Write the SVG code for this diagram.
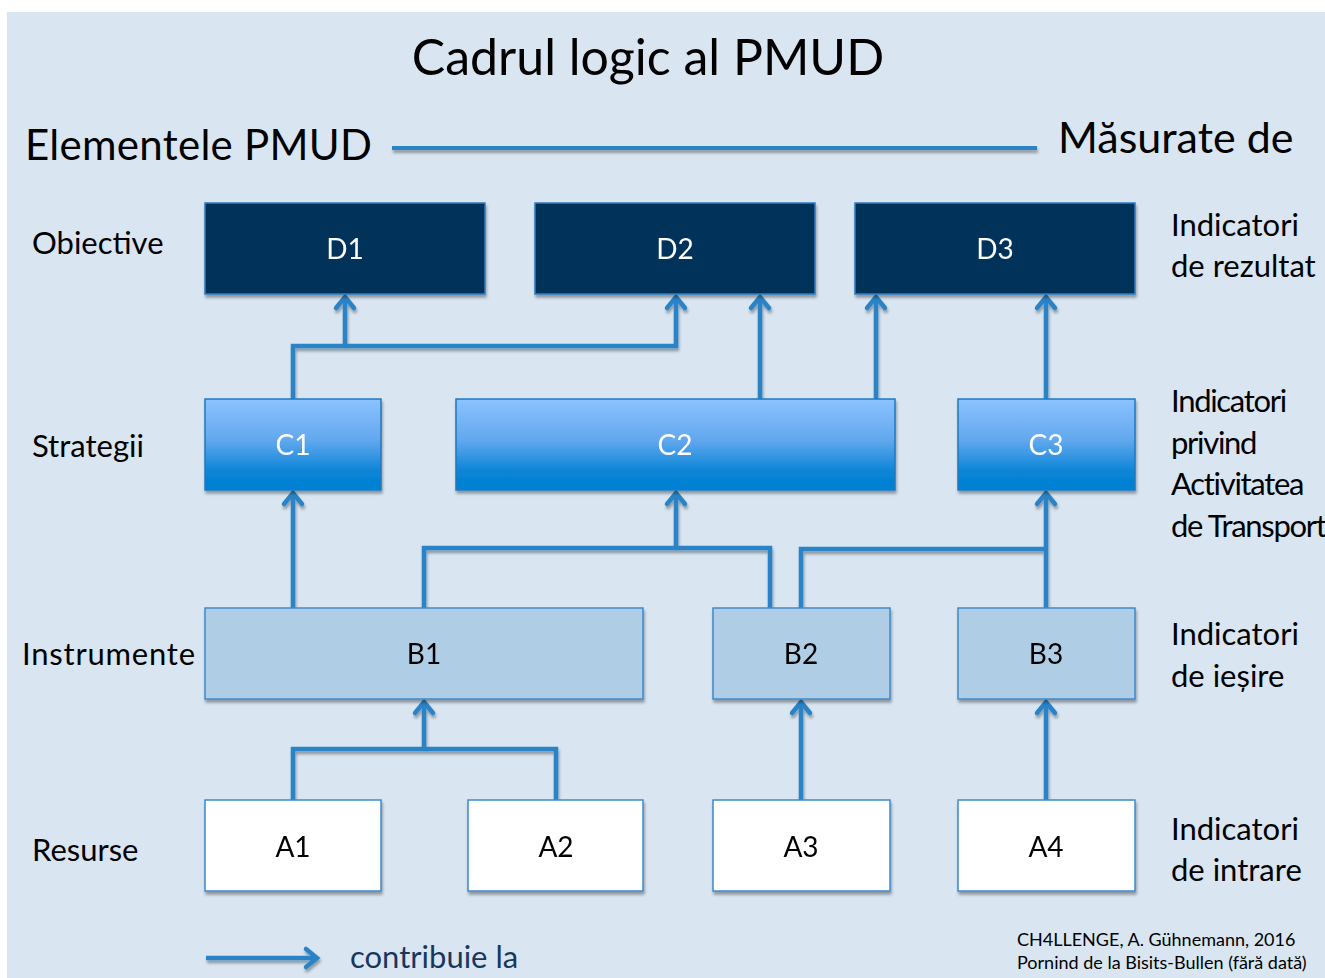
<svg xmlns="http://www.w3.org/2000/svg" width="1325" height="978" viewBox="0 0 1325 978">
  <style>
    .t { font-family: Lato, "Open Sans", "Liberation Sans", sans-serif; fill: #000; }
    .lbl { font-size: 31px; }
    .box text { font-family: Lato, "Open Sans", "Liberation Sans", sans-serif; font-size: 28px; text-anchor: middle; }
    .d rect { fill: #00305A; stroke: #2E7CC0; stroke-width: 1.5; }
    .d text { fill: #fff; }
    .c rect { fill: url(#gradC); stroke: #1F78C0; stroke-width: 1.5; }
    .c text { fill: #fff; }
    .b rect { fill: #B0CDE6; stroke: #3E8ACC; stroke-width: 1.5; }
    .b text { fill: #000; }
    .a rect { fill: #fff; stroke: #3E8ACC; stroke-width: 1.5; }
    .a text { fill: #000; }
    .conn { fill: none; stroke: #2A83C6; stroke-width: 4.5; stroke-linejoin: miter; }
    .arr { marker-end: url(#head); }
  </style>
  <defs>
    <linearGradient id="gradC" x1="0" y1="0" x2="0" y2="1">
      <stop offset="0" stop-color="#8CC2FF"/>
      <stop offset="0.45" stop-color="#62A8EE"/>
      <stop offset="0.8" stop-color="#0A84D6"/>
      <stop offset="1" stop-color="#0080D2"/>
    </linearGradient>
    <filter id="shadow" filterUnits="userSpaceOnUse" x="0" y="0" width="1325" height="978">
      <feGaussianBlur in="SourceAlpha" stdDeviation="1.5"/>
      <feOffset dx="1" dy="2.5" result="o"/>
      <feComponentTransfer><feFuncA type="linear" slope="0.35"/></feComponentTransfer>
      <feMerge><feMergeNode/><feMergeNode in="SourceGraphic"/></feMerge>
    </filter>
    <marker id="head" markerUnits="userSpaceOnUse" markerWidth="30" markerHeight="30" viewBox="-15 -15 30 30" refX="0" refY="0" orient="auto">
      <polyline points="-11,-9 0,0 -11,9" fill="none" stroke="#2A83C6" stroke-width="4.5" stroke-linecap="round" stroke-linejoin="miter"/>
    </marker>
  </defs>

  <!-- page background -->
  <rect x="0" y="0" width="1325" height="978" fill="#fff"/>
  <rect x="7" y="12" width="1318" height="966" fill="#D9E6F2"/>

  <!-- headings -->
  <text class="t" x="648" y="75" font-size="50" text-anchor="middle">Cadrul logic al PMUD</text>
  <text class="t" x="25" y="160" font-size="42" textLength="347">Elementele PMUD</text>
  <line x1="392" y1="148" x2="1037" y2="148" stroke="#2A83C6" stroke-width="4" filter="url(#shadow)"/>
  <text class="t" x="1058" y="153" font-size="43">Măsurate de</text>

  <!-- row labels, left -->
  <text class="t lbl" x="32" y="254">Obiective</text>
  <text class="t lbl" x="32" y="457">Strategii</text>
  <text class="t lbl" x="22" y="665" textLength="173">Instrumente</text>
  <text class="t lbl" x="32" y="861">Resurse</text>

  <!-- indicator labels, right -->
  <text class="t lbl" x="1171" y="236">Indicatori</text>
  <text class="t lbl" x="1171" y="277">de rezultat</text>
  <g class="t lbl" letter-spacing="-1.3">
    <text x="1171" y="412">Indicatori</text>
    <text x="1171" y="454">privind</text>
    <text x="1171" y="495">Activitatea</text>
    <text x="1171" y="537">de Transport</text>
  </g>
  <text class="t lbl" x="1171" y="645">Indicatori</text>
  <text class="t lbl" x="1171" y="687">de ieșire</text>
  <text class="t lbl" x="1171" y="840">Indicatori</text>
  <text class="t lbl" x="1171" y="881">de intrare</text>

  <!-- connectors -->
  <g id="connectors" filter="url(#shadow)">
    <path class="conn arr" d="M293,399 V346 H676 V297"/>
    <path class="conn arr" d="M345,346 V297"/>
    <path class="conn arr" d="M760,399 V297"/>
    <path class="conn arr" d="M876,399 V297"/>
    <path class="conn arr" d="M1046,399 V297"/>
    <path class="conn arr" d="M293,608 V493"/>
    <path class="conn" d="M424,608 V548 H770 V608"/>
    <path class="conn arr" d="M676,548 V493"/>
    <path class="conn" d="M801,608 V549 H1046"/>
    <path class="conn arr" d="M1046,608 V493"/>
    <path class="conn" d="M293,800 V749 H556 V800"/>
    <path class="conn arr" d="M424,749 V702"/>
    <path class="conn arr" d="M801,800 V702"/>
    <path class="conn arr" d="M1046,800 V702"/>
  </g>

  <!-- objectives -->
  <g id="D1" class="box d" filter="url(#shadow)"><rect x="205" y="203" width="280" height="91"/><text x="345" y="259">D1</text></g>
  <g id="D2" class="box d" filter="url(#shadow)"><rect x="535" y="203" width="280" height="91"/><text x="675" y="259">D2</text></g>
  <g id="D3" class="box d" filter="url(#shadow)"><rect x="855" y="203" width="280" height="91"/><text x="995" y="259">D3</text></g>

  <!-- strategies -->
  <g id="C1" class="box c" filter="url(#shadow)"><rect x="205" y="399" width="176" height="91"/><text x="293" y="455">C1</text></g>
  <g id="C2" class="box c" filter="url(#shadow)"><rect x="456" y="399" width="439" height="91"/><text x="675" y="455">C2</text></g>
  <g id="C3" class="box c" filter="url(#shadow)"><rect x="958" y="399" width="177" height="91"/><text x="1046" y="455">C3</text></g>

  <!-- instruments -->
  <g id="B1" class="box b" filter="url(#shadow)"><rect x="205" y="608" width="438" height="91"/><text x="424" y="664">B1</text></g>
  <g id="B2" class="box b" filter="url(#shadow)"><rect x="713" y="608" width="177" height="91"/><text x="801" y="664">B2</text></g>
  <g id="B3" class="box b" filter="url(#shadow)"><rect x="958" y="608" width="177" height="91"/><text x="1046" y="664">B3</text></g>

  <!-- resources -->
  <g id="A1" class="box a" filter="url(#shadow)"><rect x="205" y="800" width="176" height="91"/><text x="293" y="857">A1</text></g>
  <g id="A2" class="box a" filter="url(#shadow)"><rect x="468" y="800" width="175" height="91"/><text x="556" y="857">A2</text></g>
  <g id="A3" class="box a" filter="url(#shadow)"><rect x="713" y="800" width="177" height="91"/><text x="801" y="857">A3</text></g>
  <g id="A4" class="box a" filter="url(#shadow)"><rect x="958" y="800" width="177" height="91"/><text x="1046" y="857">A4</text></g>

  <!-- legend -->
  <g id="legend">
    <path class="conn arr" d="M206,958 H317" filter="url(#shadow)"/>
    <text x="350" y="968" font-family="Lato, 'Open Sans', 'Liberation Sans', sans-serif" font-size="31" fill="#17375E">contribuie la</text>
  </g>

  <!-- source note -->
  <text class="t" x="1017" y="946" font-size="18">CH4LLENGE, A. Gühnemann, 2016</text>
  <text class="t" x="1017" y="969" font-size="18">Pornind de la Bisits-Bullen (fără dată)</text>
</svg>
